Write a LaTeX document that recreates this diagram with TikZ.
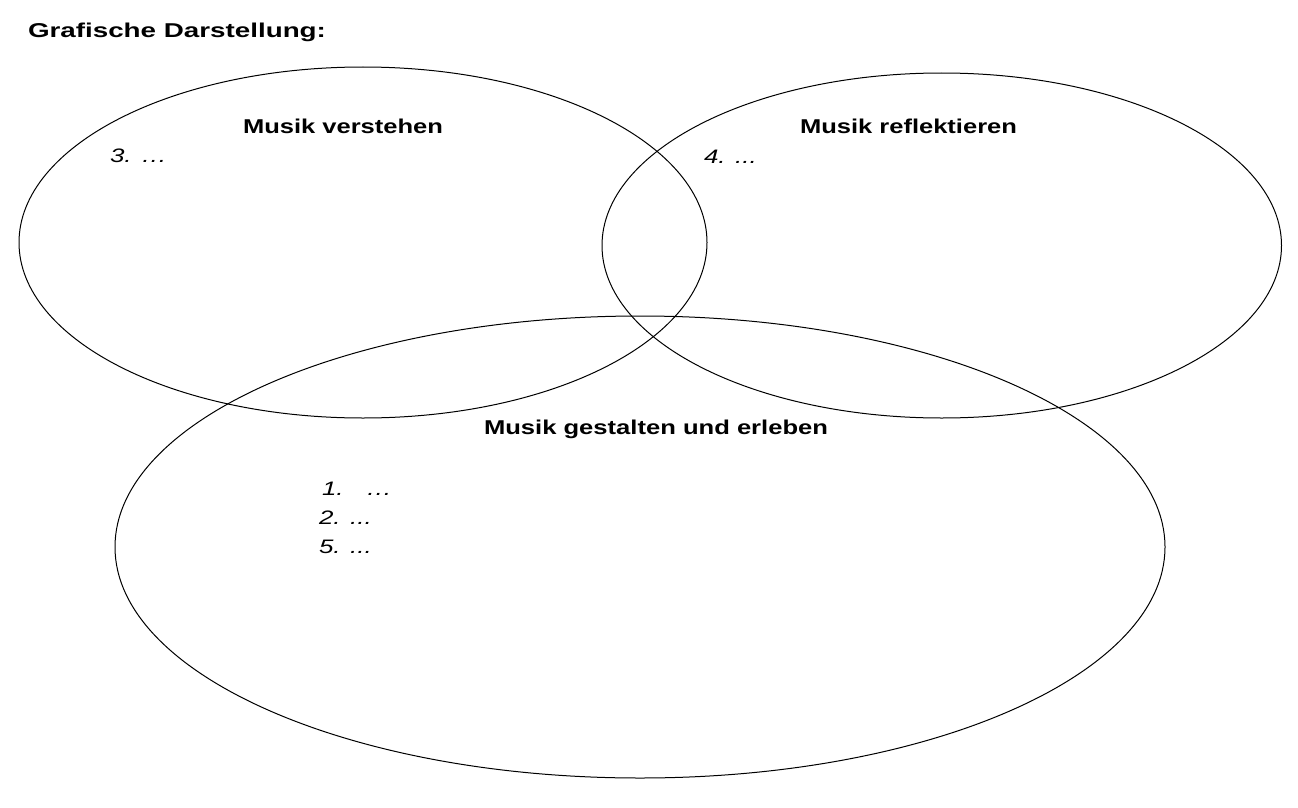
\documentclass[tikz,border=0pt]{standalone}
\usepackage{fontspec}
\setmainfont{Liberation Sans}
\usepackage{graphicx}
\newcommand{\wfit}[2]{\resizebox{#1pt}{\height}{#2}}
\newcommand{\sxs}[1]{\scalebox{1.33}[1]{#1}}
\begin{document}
\begin{tikzpicture}[x=1pt,y=-1pt,
  lbl/.style={anchor=base west,inner sep=0pt,outer sep=0pt,font=\fontsize{19.5}{23}\selectfont},
  hd/.style={lbl,font=\fontsize{20}{24}\selectfont\bfseries},
  it/.style={lbl,font=\fontsize{19.5}{23}\selectfont\itshape},
  set/.style={draw=black,line width=1pt}]
\useasboundingbox[fill=white] (0,0) rectangle (1298,808);
\draw[set] (363,242.5) ellipse [x radius=344pt, y radius=175.5pt];
\draw[set] (941.75,245.5) ellipse [x radius=339.75pt, y radius=172.5pt];
\draw[set] (640,547) ellipse [x radius=525pt, y radius=231pt];
\node[hd] (title) at (28,37.5) {\wfit{298}{Grafische Darstellung:}};
\node[hd] (verstehen) at (243,133) {\wfit{200}{Musik verstehen}};
\node[hd] (reflekt) at (800,133.5) {\wfit{217}{Musik reflektieren}};
\node[hd] (gestalten) at (484,434) {\wfit{344}{Musik gestalten und erleben}};
\node[it] (n3) at (110,162) {\sxs{3. …}};
\node[it] (n4) at (704,163) {\sxs{4. ...}};
\node[it] (n1) at (322,495) {\sxs{1.\hspace{17pt}…}};
\node[it] (n2) at (319,524) {\sxs{2. ...}};
\node[it] (n5) at (319,553) {\sxs{5. ...}};
\end{tikzpicture}
\end{document}
